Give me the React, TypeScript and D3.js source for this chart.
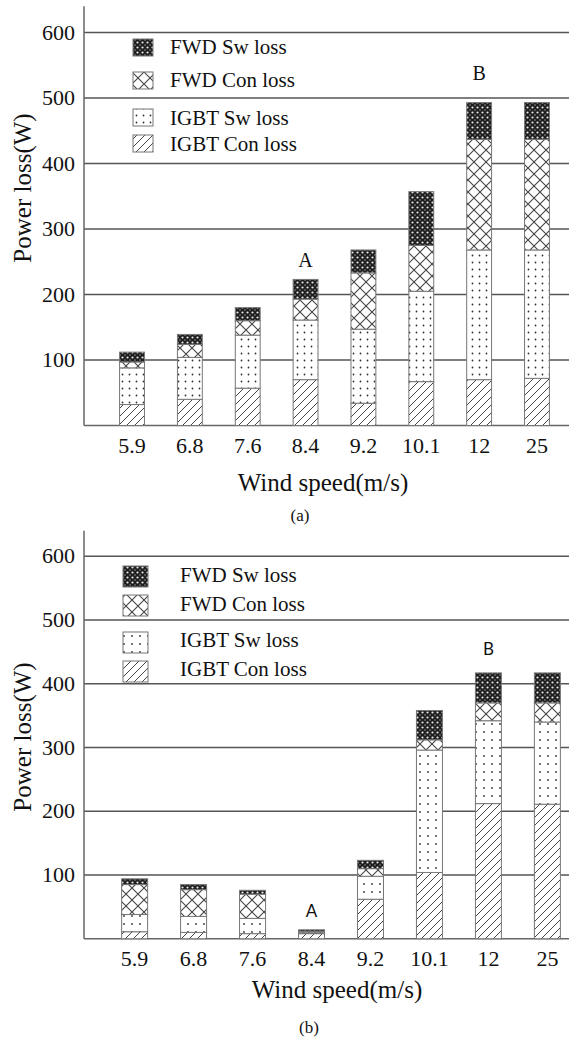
import * as d3 from "d3";

const categories = ["5.9", "6.8", "7.6", "8.4", "9.2", "10.1", "12", "25"];
const keys = ["igbtCon", "igbtSw", "fwdCon", "fwdSw"];
const seriesNames = ["IGBT Con loss", "IGBT Sw loss", "FWD Con loss", "FWD Sw loss"];
const yTicks = [100, 200, 300, 400, 500, 600];

// (a)
const igbtConA = [32, 40, 57, 70, 34, 67, 70, 72];
const igbtSwA = [56, 64, 81, 91, 113, 138, 198, 196];
const fwdConA = [9, 20, 22, 32, 86, 70, 169, 169];
const fwdSwA = [15, 15, 20, 30, 35, 82, 56, 56];

// (b)
const igbtConB = [11, 10, 8, 8, 62, 104, 212, 211];
const igbtSwB = [27, 25, 24, 1.5, 36, 192, 130, 129];
const fwdConB = [47, 42, 38, 2, 12, 16, 28, 30];
const fwdSwB = [9, 8, 6, 2.5, 13, 46, 47, 47];

const notesA = [{ label: "A", cat: "8.4", value: 242 }, { label: "B", cat: "12", value: 527 }];
const notesB = [{ label: "A", cat: "8.4", value: 34 }, { label: "B", cat: "12", value: 445 }];

const serif = "'Liberation Serif', 'Times New Roman', serif";
const sans = "Lato, 'Open Sans', sans-serif";

const panels = [
  {
    id: "a",
    values: [igbtConA, igbtSwA, fwdConA, fwdSwA],
    notes: notesA,
    noteFont: serif,
    noteSize: 20,
    y0: 425.5,
    y600: 32.5,
    xRange: [84, 585],
    pi: 0.57,
    po: 0.615,
    dot: 7,
    legendX: 133,
    legendTextX: 170,
    legendSw: [20, 17],
    legendRows: [56, 89, 126, 152], // bottom of swatch, order FWD Sw, FWD Con, IGBT Sw, IGBT Con
    legendBase: [54, 87, 125, 151],
    titleX: 31,
    titleY: 188,
    xTitle: [323, 491],
    caption: ["(a)", 300, 521],
  },
  {
    id: "b",
    values: [igbtConB, igbtSwB, fwdConB, fwdSwB],
    notes: notesB,
    noteFont: sans,
    noteSize: 17,
    y0: 938.75,
    y600: 556.25,
    xRange: [84, 598],
    pi: 0.559,
    po: 0.638,
    dot: 8,
    legendX: 123,
    legendTextX: 180,
    legendSw: [25, 21],
    legendRows: [587, 616, 653, 682],
    legendBase: [582, 611, 647, 676],
    titleX: 31,
    titleY: 737,
    xTitle: [337, 998],
    caption: ["(b)", 309, 1033],
  },
];

function Patterns({ p, dot }) {
  return (
    <defs>
      <pattern id={`fsw-${p}`} width={5} height={5} patternUnits="userSpaceOnUse">
        <rect width={5} height={5} fill="#1e1e1e" />
        <circle cx={2.5} cy={2.5} r={1.1} fill="#e8e8e8" />
        <circle cx={0} cy={0} r={0.8} fill="#999" />
        <circle cx={5} cy={0} r={0.8} fill="#999" />
        <circle cx={0} cy={5} r={0.8} fill="#999" />
        <circle cx={5} cy={5} r={0.8} fill="#999" />
      </pattern>
      <pattern id={`fcon-${p}`} width={12} height={12} patternUnits="userSpaceOnUse">
        <rect width={12} height={12} fill="#fff" />
        <path d="M0,0L12,12M12,0L0,12" stroke="#444" strokeWidth={1.1} />
      </pattern>
      <pattern id={`isw-${p}`} width={dot} height={dot} patternUnits="userSpaceOnUse">
        <rect width={dot} height={dot} fill="#fff" />
        <circle cx={dot / 2} cy={dot / 2} r={0.9} fill="#333" />
      </pattern>
      <pattern id={`icon-${p}`} width={8} height={8} patternUnits="userSpaceOnUse">
        <rect width={8} height={8} fill="#fff" />
        <path d="M0,8L8,0M-2,2L2,-2M6,10L10,6" stroke="#444" strokeWidth={1} />
      </pattern>
    </defs>
  );
}

const fills = ["icon", "isw", "fcon", "fsw"];

function Panel({ cfg }) {
  const y = d3.scaleLinear().domain([0, 600]).range([cfg.y0, cfg.y600]);
  const x = d3
    .scaleBand()
    .domain(categories)
    .range(cfg.xRange)
    .paddingInner(cfg.pi)
    .paddingOuter(cfg.po);
  const rows = categories.map((c, i) => {
    const r: any = { cat: c };
    keys.forEach((k, j) => (r[k] = cfg.values[j][i]));
    return r;
  });
  const layers = d3.stack().keys(keys)(rows);
  const axisX = 84;
  // legend rows listed top to bottom: FWD Sw, FWD Con, IGBT Sw, IGBT Con
  const legendOrder = [3, 2, 1, 0];

  return (
    <g>
      <Patterns p={cfg.id} dot={cfg.dot} />
      {yTicks.map((t) => (
        <g key={t}>
          <line x1={axisX} x2={569} y1={y(t)} y2={y(t)} stroke="#555" strokeWidth={1.3} />
          <text x={75} y={y(t) + 7} textAnchor="end" fontSize={22} fontFamily={serif} fill="#111">
            {t}
          </text>
        </g>
      ))}
      <line x1={axisX} x2={axisX} y1={y(640)} y2={y(0)} stroke="#666" strokeWidth={1.5} />
      <line x1={axisX} x2={569} y1={y(0)} y2={y(0)} stroke="#666" strokeWidth={1.5} />

      {layers.map((layer, li) =>
        layer.map((d) => (
          <rect
            key={li + "-" + d.data.cat}
            x={x(d.data.cat)}
            y={y(d[1])}
            width={x.bandwidth()}
            height={Math.max(0, y(d[0]) - y(d[1]))}
            fill={`url(#${fills[li]}-${cfg.id})`}
            stroke="#777"
            strokeWidth={1}
          />
        ))
      )}

      {categories.map((c) => (
        <text
          key={c}
          x={x(c) + x.bandwidth() / 2}
          y={y(0) + 27}
          textAnchor="middle"
          fontSize={22}
          fontFamily={serif}
          fill="#111"
        >
          {c}
        </text>
      ))}

      {cfg.notes.map((n) => (
        <text
          key={n.label}
          x={x(n.cat) + x.bandwidth() / 2}
          y={y(n.value)}
          textAnchor="middle"
          fontSize={cfg.noteSize}
          fontFamily={cfg.noteFont}
          fill="#111"
        >
          {n.label}
        </text>
      ))}

      {legendOrder.map((si, r) => (
        <g key={si}>
          <rect
            x={cfg.legendX}
            y={cfg.legendRows[r] - cfg.legendSw[1]}
            width={cfg.legendSw[0]}
            height={cfg.legendSw[1]}
            fill={`url(#${fills[si]}-${cfg.id})`}
            stroke="#777"
            strokeWidth={1}
          />
          <text x={cfg.legendTextX} y={cfg.legendBase[r]} fontSize={21} fontFamily={serif} fill="#111">
            {seriesNames[si]}
          </text>
        </g>
      ))}

      <text
        transform={`translate(${cfg.titleX},${cfg.titleY}) rotate(-90)`}
        textAnchor="middle"
        fontSize={25}
        fontFamily={serif}
        fill="#111"
      >
        Power loss(W)
      </text>
      <text x={cfg.xTitle[0]} y={cfg.xTitle[1]} textAnchor="middle" fontSize={25} fontFamily={serif} fill="#111">
        Wind speed(m/s)
      </text>
      <text x={cfg.caption[1]} y={cfg.caption[2]} textAnchor="middle" fontSize={17} fontFamily={serif} fill="#111">
        {cfg.caption[0]}
      </text>
    </g>
  );
}

export default function App() {
  return (
    <svg
      width={569}
      height={1040}
      style={{ position: "absolute", left: 0, top: 0, background: "#fff", display: "block" }}
    >
      {panels.map((cfg) => (
        <Panel key={cfg.id} cfg={cfg} />
      ))}
    </svg>
  );
}
